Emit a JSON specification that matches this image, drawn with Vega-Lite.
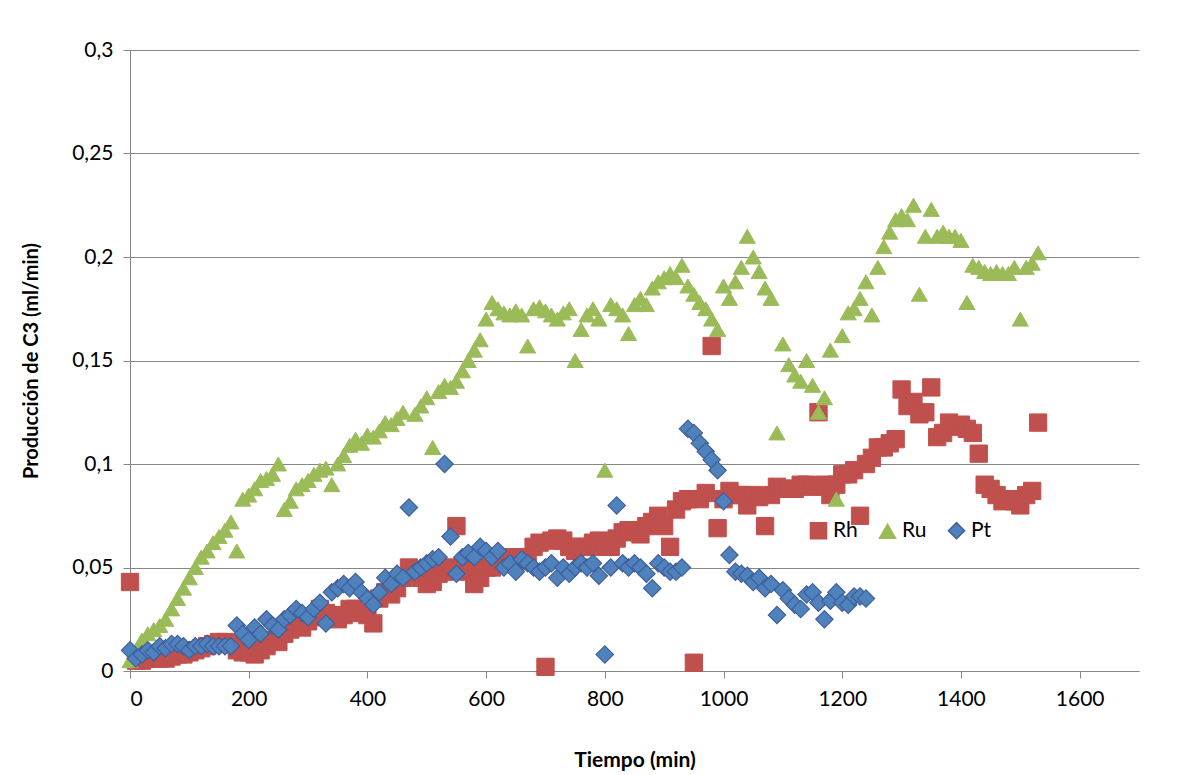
{"$schema":"https://vega.github.io/schema/vega-lite/v6.json","width":1009,"height":621,"autosize":{"type":"none"},"padding":{"left":130,"top":50,"right":38,"bottom":104},"background":"white",
"config":{"view":{"stroke":null},"font":"Lato"},
"datasets":{
"Rh":[[0,0.043],[10,0.005],[20,0.005],[30,0.006],[40,0.006],[50,0.006],[60,0.006],[70,0.007],[80,0.008],[90,0.008],[100,0.009],[110,0.01],[120,0.011],[130,0.012],[140,0.013],[150,0.014],[160,0.014],[170,0.013],[180,0.01],[190,0.009],[200,0.009],[210,0.008],[220,0.01],[230,0.012],[240,0.015],[250,0.014],[260,0.018],[270,0.02],[280,0.022],[290,0.021],[300,0.024],[310,0.026],[320,0.03],[330,0.028],[340,0.027],[350,0.025],[360,0.027],[370,0.03],[380,0.03],[390,0.028],[400,0.027],[410,0.023],[420,0.035],[430,0.038],[440,0.037],[450,0.04],[460,0.045],[470,0.05],[480,0.047],[490,0.045],[500,0.042],[510,0.043],[520,0.047],[530,0.048],[540,0.05],[550,0.07],[560,0.05],[570,0.048],[580,0.042],[590,0.045],[600,0.05],[610,0.05],[620,0.055],[630,0.052],[640,0.055],[650,0.053],[660,0.055],[670,0.055],[680,0.06],[690,0.062],[700,0.002],[710,0.063],[720,0.064],[730,0.063],[740,0.06],[750,0.058],[760,0.06],[770,0.06],[780,0.062],[790,0.063],[800,0.06],[810,0.06],[820,0.064],[830,0.067],[840,0.068],[850,0.068],[860,0.066],[870,0.07],[880,0.072],[890,0.075],[900,0.07],[910,0.06],[920,0.078],[930,0.082],[940,0.083],[950,0.004],[960,0.083],[970,0.086],[980,0.157],[990,0.069],[1000,0.083],[1010,0.087],[1020,0.085],[1030,0.085],[1040,0.08],[1050,0.085],[1060,0.084],[1070,0.07],[1080,0.085],[1090,0.089],[1100,0.088],[1110,0.088],[1120,0.088],[1130,0.09],[1140,0.09],[1150,0.089],[1160,0.125],[1170,0.09],[1180,0.085],[1190,0.09],[1200,0.095],[1210,0.095],[1220,0.097],[1230,0.075],[1240,0.1],[1250,0.103],[1260,0.108],[1270,0.108],[1280,0.11],[1290,0.112],[1300,0.136],[1310,0.128],[1320,0.13],[1330,0.124],[1340,0.125],[1350,0.137],[1360,0.113],[1370,0.115],[1380,0.12],[1390,0.118],[1400,0.119],[1410,0.117],[1420,0.115],[1430,0.105],[1440,0.09],[1450,0.088],[1460,0.085],[1470,0.082],[1480,0.083],[1490,0.082],[1500,0.08],[1510,0.085],[1520,0.087],[1530,0.12]],
"Ru":[[0,0.005],[10,0.01],[20,0.015],[30,0.018],[40,0.02],[50,0.022],[60,0.025],[70,0.03],[80,0.035],[90,0.04],[100,0.045],[110,0.05],[120,0.055],[130,0.058],[140,0.062],[150,0.065],[160,0.068],[170,0.072],[180,0.058],[190,0.083],[200,0.085],[210,0.088],[220,0.092],[230,0.093],[240,0.095],[250,0.1],[260,0.078],[270,0.082],[280,0.088],[290,0.09],[300,0.092],[310,0.095],[320,0.097],[330,0.098],[340,0.09],[350,0.1],[360,0.104],[370,0.109],[380,0.112],[390,0.11],[400,0.114],[410,0.113],[420,0.116],[430,0.12],[440,0.119],[450,0.122],[460,0.125],[480,0.124],[490,0.128],[500,0.132],[510,0.108],[520,0.135],[530,0.138],[540,0.137],[550,0.14],[560,0.145],[570,0.15],[580,0.155],[590,0.16],[600,0.17],[610,0.178],[620,0.175],[630,0.173],[640,0.172],[650,0.174],[660,0.172],[670,0.157],[680,0.175],[690,0.176],[700,0.174],[710,0.172],[720,0.17],[730,0.173],[740,0.175],[750,0.15],[760,0.165],[770,0.172],[780,0.175],[790,0.17],[800,0.097],[810,0.177],[820,0.175],[830,0.172],[840,0.163],[850,0.177],[860,0.18],[870,0.177],[880,0.185],[890,0.188],[900,0.19],[910,0.192],[920,0.19],[930,0.196],[940,0.186],[950,0.182],[960,0.178],[970,0.175],[980,0.17],[990,0.165],[1000,0.186],[1010,0.18],[1020,0.188],[1030,0.195],[1040,0.21],[1050,0.2],[1060,0.193],[1070,0.185],[1080,0.18],[1090,0.115],[1100,0.158],[1110,0.148],[1120,0.143],[1130,0.14],[1140,0.15],[1150,0.138],[1160,0.125],[1170,0.132],[1180,0.155],[1190,0.083],[1200,0.162],[1210,0.173],[1220,0.175],[1230,0.18],[1240,0.188],[1250,0.172],[1260,0.195],[1270,0.205],[1280,0.212],[1290,0.218],[1300,0.22],[1310,0.218],[1320,0.225],[1330,0.182],[1340,0.21],[1350,0.223],[1360,0.21],[1370,0.212],[1380,0.21],[1390,0.21],[1400,0.208],[1410,0.178],[1420,0.196],[1430,0.195],[1440,0.193],[1450,0.192],[1460,0.193],[1470,0.192],[1480,0.192],[1490,0.195],[1500,0.17],[1510,0.195],[1520,0.197],[1530,0.202]],
"Pt":[[0,0.01],[10,0.006],[20,0.008],[30,0.01],[40,0.009],[50,0.012],[60,0.011],[70,0.013],[80,0.013],[90,0.012],[100,0.01],[110,0.012],[120,0.012],[130,0.013],[140,0.012],[150,0.012],[160,0.012],[170,0.012],[180,0.022],[190,0.018],[200,0.015],[210,0.021],[220,0.018],[230,0.025],[240,0.022],[250,0.02],[260,0.025],[270,0.027],[280,0.03],[290,0.028],[300,0.026],[310,0.03],[320,0.033],[330,0.023],[340,0.038],[350,0.04],[360,0.042],[370,0.04],[380,0.043],[390,0.038],[400,0.035],[410,0.032],[420,0.038],[430,0.045],[440,0.042],[450,0.047],[460,0.045],[470,0.079],[480,0.048],[490,0.05],[500,0.052],[510,0.054],[520,0.055],[530,0.1],[540,0.065],[550,0.047],[560,0.055],[570,0.057],[580,0.055],[590,0.06],[600,0.058],[610,0.055],[620,0.058],[630,0.05],[640,0.052],[650,0.048],[660,0.054],[670,0.052],[680,0.05],[690,0.048],[700,0.05],[710,0.052],[720,0.045],[730,0.05],[740,0.047],[750,0.05],[760,0.052],[770,0.05],[780,0.052],[790,0.046],[800,0.008],[810,0.05],[820,0.08],[830,0.052],[840,0.05],[850,0.052],[860,0.05],[870,0.047],[880,0.04],[890,0.052],[900,0.05],[910,0.048],[920,0.048],[930,0.05],[940,0.117],[950,0.115],[960,0.11],[970,0.106],[980,0.102],[990,0.097],[1000,0.082],[1010,0.056],[1020,0.048],[1030,0.047],[1040,0.046],[1050,0.043],[1060,0.045],[1070,0.04],[1080,0.042],[1090,0.027],[1100,0.039],[1110,0.035],[1120,0.032],[1130,0.03],[1140,0.037],[1150,0.038],[1160,0.033],[1170,0.025],[1180,0.034],[1190,0.038],[1200,0.033],[1210,0.032],[1220,0.036],[1230,0.036],[1240,0.035]]
},
"layer":[
{"data":{"name":"Rh"},"transform":[{"calculate":"datum[0]","as":"t"},{"calculate":"datum[1]","as":"v"},{"calculate":"'Rh'","as":"s"}],"mark":{"type":"point","filled":true,"opacity":1,"size":300,"strokeWidth":1}},
{"data":{"name":"Ru"},"transform":[{"calculate":"datum[0]","as":"t"},{"calculate":"datum[1]","as":"v"},{"calculate":"'Ru'","as":"s"}],"mark":{"type":"point","filled":true,"opacity":1,"size":260,"strokeWidth":1}},
{"data":{"name":"Pt"},"transform":[{"calculate":"datum[0]","as":"t"},{"calculate":"datum[1]","as":"v"},{"calculate":"'Pt'","as":"s"}],"mark":{"type":"point","filled":true,"opacity":1,"size":300,"strokeWidth":1.2}}
],
"encoding":{
"x":{"field":"t","type":"quantitative","scale":{"domain":[0,1700],"nice":false},"axis":{"values":[0,200,400,600,800,1000,1200,1400,1600],"format":"d","title":"Tiempo (min)","titleFontSize":21,"titleFontWeight":"bold","titlePadding":40,"labelFontSize":21,"labelPadding":10,"grid":false,"domainColor":"#868686","tickColor":"#868686","tickSize":7,"labelColor":"#000"}},
"y":{"field":"v","type":"quantitative","scale":{"domain":[0,0.3],"nice":false},"axis":{"values":[0,0.05,0.1,0.15,0.2,0.25,0.3],"labelExpr":"replace(toString(datum.value),'.',',')","title":"Producción de C3 (ml/min)","titleFontSize":20,"titleFontWeight":"bold","titlePadding":30,"labelFontSize":21,"labelPadding":10,"gridColor":"#868686","domainColor":"#868686","tickColor":"#868686","tickSize":7,"labelColor":"#000"}},
"color":{"field":"s","type":"nominal","scale":{"domain":["Rh","Ru","Pt"],"range":["#C0504D","#9BBB59","#4F81BD"]},"legend":{"orient":"none","legendX":678,"legendY":470,"direction":"horizontal","title":null,"labelFontSize":21,"symbolSize":260,"columnPadding":18,"labelColor":"#000"}},
"shape":{"field":"s","type":"nominal","scale":{"domain":["Rh","Ru","Pt"],"range":["square","triangle-up","diamond"]},"legend":null},
"stroke":{"field":"s","type":"nominal","scale":{"domain":["Rh","Ru","Pt"],"range":["#C0504D","#9BBB59","#3F5F9A"]},"legend":null}
}
}
